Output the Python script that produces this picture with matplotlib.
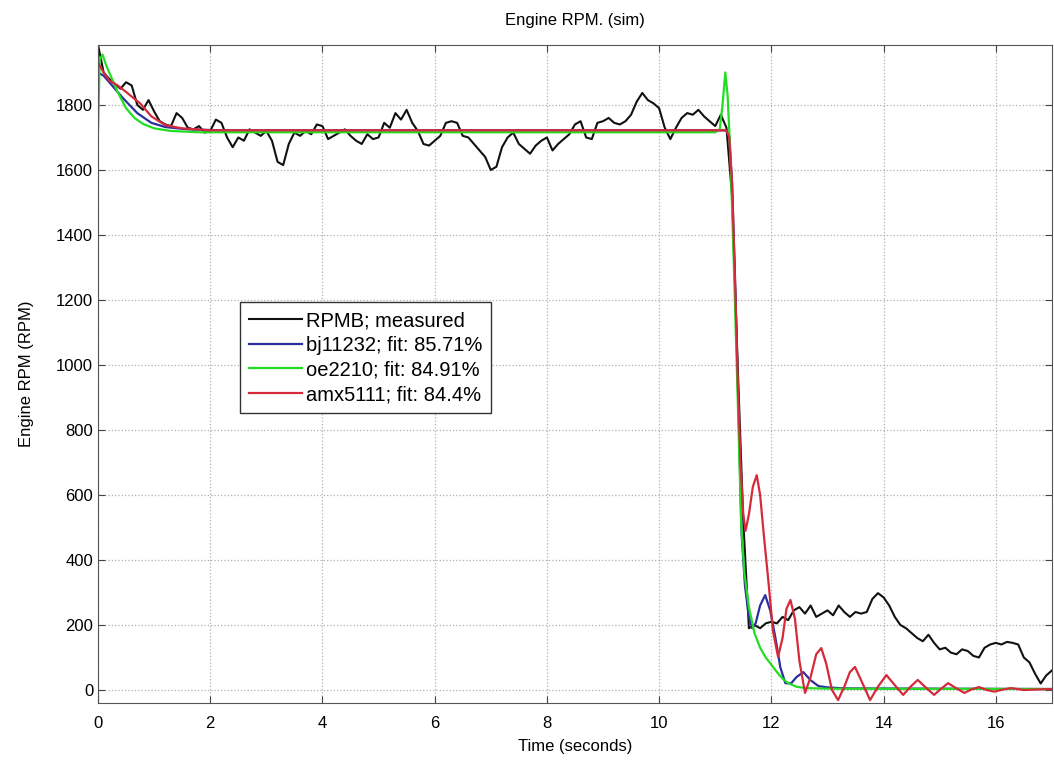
import numpy as np
import matplotlib.pyplot as plt

plt.rcParams['font.family'] = ['Liberation Sans', 'DejaVu Sans']

# measured engine speed, sampled every 0.1 s from 0 to 17 s
rpm_measured = [
    1985, 1900, 1880, 1865, 1850, 1870, 1860, 1800, 1785, 1815,
    1780, 1750, 1740, 1735, 1775, 1760, 1730, 1725, 1735, 1715,
    1720, 1755, 1745, 1700, 1670, 1700, 1690, 1725, 1715, 1705,
    1720, 1690, 1625, 1615, 1680, 1715, 1705, 1720, 1710, 1740,
    1735, 1695, 1705, 1715, 1725, 1705, 1690, 1680, 1710, 1695,
    1700, 1745, 1730, 1775, 1755, 1785, 1745, 1720, 1680, 1675,
    1690, 1705, 1745, 1750, 1745, 1705, 1700, 1680, 1660, 1640,
    1600, 1610, 1670, 1700, 1715, 1680, 1665, 1650, 1675, 1690,
    1700, 1660, 1680, 1695, 1710, 1740, 1750, 1700, 1695, 1745,
    1750, 1760, 1745, 1740, 1750, 1770, 1810, 1837, 1815, 1805,
    1790, 1730, 1695, 1730, 1760, 1775, 1770, 1785, 1765, 1750,
    1735, 1770, 1730, 1520, 1000, 520, 190, 200, 190, 205,
    210, 205, 225, 215, 245, 255, 235, 260, 225, 235,
    245, 230, 260, 240, 225, 240, 235, 240, 280, 298,
    285, 260, 225, 200, 190, 175, 160, 150, 170, 145,
    125, 130, 115, 110, 125, 120, 105, 100, 130, 140,
    145, 140, 148, 145, 140, 100, 85, 50, 20, 45,
    60,
]
t_measured = np.linspace(0, 17, len(rpm_measured))

# bj11232 model
t_bj = [0, 0.1, 0.25, 0.45, 0.7, 0.95, 1.2, 1.6, 2.2, 11.2, 11.25, 11.3,
        11.35, 11.4, 11.47, 11.53, 11.6, 11.66, 11.72, 11.8, 11.89, 11.98,
        12.07, 12.16, 12.25, 12.35, 12.45, 12.57, 12.7, 12.84, 13.0, 13.3, 17.0]
rpm_bj = [1900, 1890, 1860, 1820, 1775, 1745, 1732, 1725, 1722, 1722, 1700, 1560,
          1280, 960, 480, 320, 225, 190, 205, 260, 292, 245,
          163, 70, 21, 20, 40, 55, 30, 12, 8, 5, 3]

# oe2210 model
t_oe = [0, 0.03, 0.08, 0.15, 0.25, 0.35, 0.5, 0.65, 0.8, 1.0, 1.3, 1.8,
        11.0, 11.08, 11.13, 11.18, 11.22, 11.27, 11.33, 11.4, 11.46, 11.52,
        11.6, 11.7, 11.8, 11.9, 12.0, 12.1, 12.2, 12.3, 12.45, 12.6, 13.0, 17.0]
rpm_oe = [1720, 1940, 1955, 1920, 1880, 1840, 1790, 1760, 1742, 1728, 1720, 1716,
          1716, 1725, 1800, 1900, 1830, 1650, 1320, 900, 520, 360,
          255, 175, 130, 100, 78, 55, 35, 21, 10, 6, 4, 3]

# amx5111 model
t_amx = [0, 0.1, 0.2, 0.35, 0.5, 0.75, 0.95, 1.2, 1.5, 2.0, 11.2, 11.25,
         11.3, 11.35, 11.4, 11.45, 11.5, 11.54, 11.6, 11.67, 11.74, 11.8,
         11.87, 11.95, 12.03, 12.12, 12.2, 12.27, 12.34, 12.42, 12.5, 12.6,
         12.7, 12.8, 12.89, 12.98, 13.08, 13.19, 13.3, 13.4, 13.49, 13.6,
         13.76, 13.9, 14.05, 14.2, 14.35, 14.48, 14.61, 14.75, 14.9, 15.02,
         15.15, 15.3, 15.44, 15.57, 15.7, 15.84, 15.97, 16.12, 16.27, 16.5,
         16.8, 17.0]
rpm_amx = [1930, 1900, 1875, 1860, 1840, 1805, 1765, 1738, 1728, 1722, 1722, 1700,
           1560, 1280, 960, 700, 540, 490, 540, 625, 661, 600,
           470, 330, 180, 102, 160, 250, 277, 220, 90, -9,
           40, 110, 129, 80, 0, -31, 10, 55, 71, 30,
           -31, 10, 46, 15, -15, 10, 31, 8, -15, 3,
           21, 5, -9, 2, 9, 0, -5, 1, 6, 0,
           2, 3]

legend_labels = ['RPMB; measured', 'bj11232; fit: 85.71%',
                 'oe2210; fit: 84.91%', 'amx5111; fit: 84.4%']

fig = plt.figure(figsize=(10.54, 7.6), dpi=100)
ax = fig.add_axes([0.093, 0.075, 0.905, 0.866])

ax.plot(t_measured, rpm_measured, color='#111111', lw=1.5, label=legend_labels[0])
ax.plot(t_bj, rpm_bj, color='#2b2f9e', lw=1.6, label=legend_labels[1])
ax.plot(t_oe, rpm_oe, color='#22dd22', lw=1.6, label=legend_labels[2])
ax.plot(t_amx, rpm_amx, color='#d42a3a', lw=1.6, label=legend_labels[3])

ax.set_xlim(0, 17)
ax.set_ylim(-40, 1985)
ax.set_xticks(np.arange(0, 17, 2))
ax.set_yticks(np.arange(0, 1801, 200))
ax.grid(True, color='#b0b0b0', linestyle=':', linewidth=0.9)
ax.tick_params(direction='in', top=True, right=True, labelsize=12, length=5,
               color='#444444')
ax.tick_params(axis='x', pad=9)
for s in ax.spines.values():
    s.set_color('#555555')

ax.set_title('Engine RPM. (sim)', fontsize=12, pad=14)
ax.set_xlabel('Time (seconds)', fontsize=12, labelpad=6)
ax.set_ylabel('Engine RPM (RPM)', fontsize=12, labelpad=16)

leg = ax.legend(loc='upper left', bbox_to_anchor=(0.149, 0.609), fontsize=14.5,
                fancybox=False, edgecolor='#333333', framealpha=1,
                handlelength=2.6, handletextpad=0.2, borderaxespad=0,
                borderpad=0.45, labelspacing=0.28)
leg.get_frame().set_linewidth(1.0)

plt.savefig('out.png', dpi=100)
